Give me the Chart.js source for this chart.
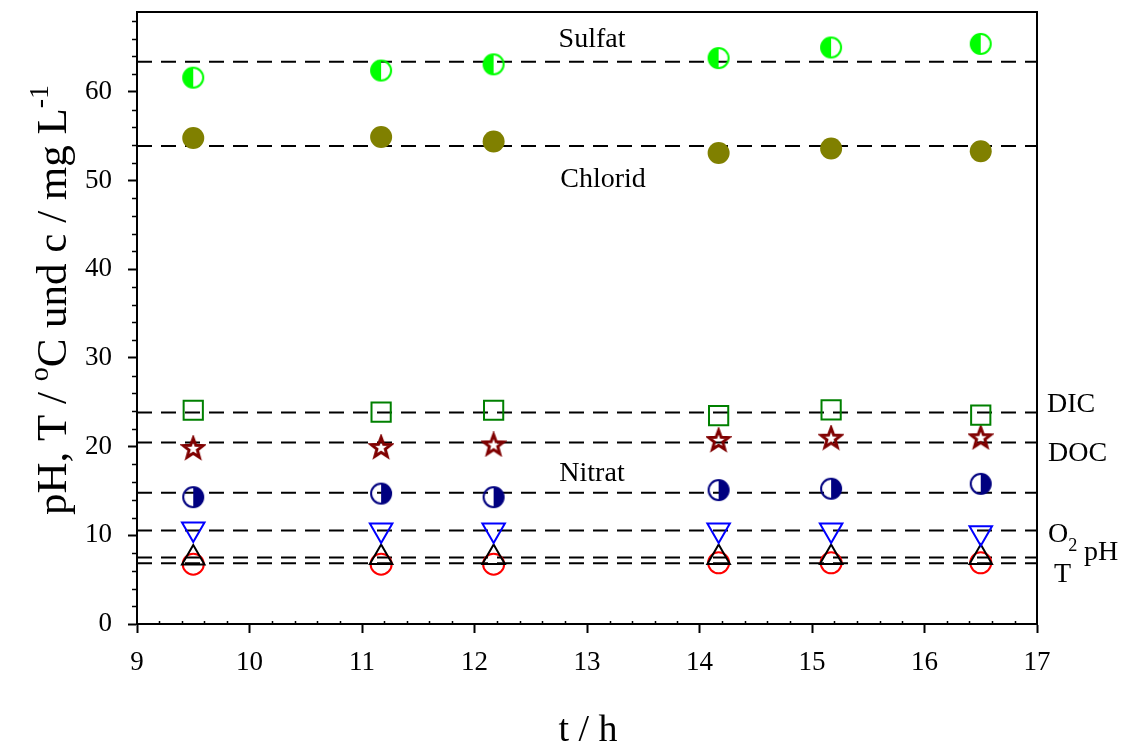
<!DOCTYPE html>
<html>
<head>
<meta charset="utf-8">
<script src="https://cdn.jsdelivr.net/npm/chart.js@4.4.0/dist/chart.umd.min.js"></script>
<style>
  html, body { margin: 0; padding: 0; background: #fff; }
  #wrap { width: 1127px; height: 747px; }
</style>
</head>
<body>
<div id="wrap"><canvas id="main-chart" width="1127" height="747"></canvas></div>
<script>
// Messzeitpunkte (h) und Messwerte
const times   = [9.5, 11.17, 12.17, 14.17, 15.17, 16.5];
const sulfat  = [61.6, 62.4, 63.1, 63.8, 65.0, 65.4];
const chlorid = [54.8, 54.9, 54.4, 53.1, 53.6, 53.3];
const dic     = [24.1, 23.9, 24.1, 23.5, 24.15, 23.55];
const doc     = [19.85, 19.95, 20.25, 20.75, 21.0, 21.05];
const nitrat  = [14.3, 14.7, 14.3, 15.1, 15.25, 15.8];
const o2      = [10.7, 10.6, 10.6, 10.6, 10.6, 10.3];
const ph      = [7.45, 7.5, 7.5, 7.5, 7.5, 7.5];
const temp    = [6.75, 6.75, 6.75, 6.9, 6.9, 6.9];

// Mittelwerte (gestrichelte Linien)
const meanLevels = [63.4, 53.9, 23.85, 20.45, 14.8, 10.55, 7.5, 6.85];

const xTicks = [9, 10, 11, 12, 13, 14, 15, 16, 17];
const yTicks = [0, 10, 20, 30, 40, 50, 60];

const SERIF = "'Liberation Serif', 'Times New Roman', serif";

// Halb gefuellter Kreis als Punktsymbol
function halfCircle(color, side) {
    const c = document.createElement('canvas');
    c.width = c.height = 26;
    const g = c.getContext('2d');
    g.fillStyle = color;
    g.strokeStyle = color;
    g.lineWidth = 2;
    g.beginPath();
    if (side === 'left') g.arc(13, 13, 10.5, Math.PI / 2, Math.PI * 1.5);
    else g.arc(13, 13, 10.5, -Math.PI / 2, Math.PI / 2);
    g.closePath();
    g.fill();
    g.beginPath();
    g.arc(13, 13, 10, 0, Math.PI * 2);
    g.stroke();
    return c;
}

// Fuenfzackiger Stern
function starMarker(color) {
    const c = document.createElement('canvas');
    c.width = c.height = 26;
    const g = c.getContext('2d');
    g.strokeStyle = color;
    g.lineWidth = 3;
    g.lineJoin = 'miter';
    g.beginPath();
    for (let i = 0; i < 10; i++) {
        const r = i % 2 === 0 ? 10.5 : 4.4;
        const a = -Math.PI / 2 + i * Math.PI / 5;
        const px = 13 + r * Math.cos(a), py = 13.8 + r * Math.sin(a);
        if (i === 0) g.moveTo(px, py); else g.lineTo(px, py);
    }
    g.closePath();
    g.stroke();
    return c;
}

const pts = (vals) => vals.map((v, i) => ({ x: times[i], y: v }));

function markerSet(vals, style) {
    return Object.assign({
        type: 'scatter',
        data: pts(vals),
        showLine: false,
        order: 1,
        backgroundColor: 'rgba(0,0,0,0)',
        pointBorderWidth: 2
    }, style);
}

const datasets = [];

meanLevels.forEach((v) => {
    datasets.push({
        type: 'line',
        data: [{ x: 9, y: v }, { x: 17, y: v }],
        borderColor: '#000',
        borderWidth: 2,
        borderDash: [15, 9],
        pointRadius: 0,
        order: 2
    });
});

datasets.push(markerSet(sulfat,  { pointStyle: halfCircle('#00ff00', 'left') }));
datasets.push(markerSet(chlorid, { pointStyle: 'circle', pointRadius: 11, pointBackgroundColor: '#808000', pointBorderColor: '#808000', pointBorderWidth: 0 }));
datasets.push(markerSet(dic,     { pointStyle: 'rect', pointRadius: 13.6, pointBorderColor: '#008000' }));
datasets.push(markerSet(doc,     { pointStyle: starMarker('#800000') }));
datasets.push(markerSet(nitrat,  { pointStyle: halfCircle('#000080', 'right') }));
datasets.push(markerSet(o2,      { pointStyle: 'triangle', rotation: 180, pointRadius: 13, pointBorderColor: '#0000ff' }));
datasets.push(markerSet(ph,      { pointStyle: 'triangle', pointRadius: 13, pointBorderColor: '#000' }));
datasets.push(markerSet(temp,    { pointStyle: 'circle', pointRadius: 10.5, pointBorderColor: '#ff0000' }));

// Text mit Hoch-/Tiefstellung zeichnen
function richText(g, parts, x, y, size) {
    let cx = x;
    parts.forEach((p) => {
        const s = p.sup || p.sub ? size * 0.65 : size;
        g.font = s + 'px ' + SERIF;
        const dy = p.sup ? -size * 0.42 : (p.sub ? size * 0.33 : 0);
        g.fillText(p.t, cx, y + dy);
        cx += g.measureText(p.t).width;
    });
    return cx - x;
}

function richWidth(g, parts, size) {
    let w = 0;
    parts.forEach((p) => {
        const s = p.sup || p.sub ? size * 0.65 : size;
        g.font = s + 'px ' + SERIF;
        w += g.measureText(p.t).width;
    });
    return w;
}

const decor = {
    id: 'decor',
    afterDraw(chart) {
        const g = chart.ctx;
        const a = chart.chartArea;
        const xs = chart.scales.x, ys = chart.scales.y;
        g.save();
        g.strokeStyle = '#000';
        g.lineWidth = 2;
        // Rahmen oben und rechts
        g.beginPath();
        g.moveTo(a.left, a.top);
        g.lineTo(a.right, a.top);
        g.lineTo(a.right, a.bottom);
        g.stroke();

        // Nebenteilstriche
        g.lineWidth = 1.5;
        g.beginPath();
        for (let v = 2; v <= 68; v += 2) {
            if (v % 10 === 0) continue;
            const py = Math.round(ys.getPixelForValue(v)) + 0.5;
            g.moveTo(a.left - 5, py);
            g.lineTo(a.left, py);
        }
        for (let k = 46; k < 85; k++) {
            if (k % 5 === 0) continue;
            const px = Math.round(xs.getPixelForValue(k / 5)) + 0.5;
            g.moveTo(px, a.bottom);
            g.lineTo(px, a.bottom - 3);
        }
        g.stroke();

        g.fillStyle = '#000';
        g.textBaseline = 'middle';
        g.textAlign = 'center';
        g.font = '28px ' + SERIF;
        g.fillText('Sulfat', 592, 40);
        g.fillText('Chlorid', 603, 180);
        g.fillText('Nitrat', 592, 474);
        g.textAlign = 'left';
        g.fillText('DIC', 1047, 405);
        g.fillText('DOC', 1048, 454);
        g.textBaseline = 'alphabetic';
        richText(g, [{ t: 'O' }, { t: '2', sub: true }], 1048, 542, 28);
        g.font = '28px ' + SERIF;
        g.fillText('pH', 1084, 560);
        g.fillText('T', 1054, 582);

        // Achsentitel
        g.textAlign = 'left';
        const xt = [{ t: 't / h' }];
        richText(g, xt, 588 - richWidth(g, xt, 38) / 2, 741, 38);

        const yt = [{ t: 'pH, T / ' }, { t: 'o', sup: true }, { t: 'C und c / mg L' }, { t: '-1', sup: true }];
        g.translate(66, 300);
        g.rotate(-Math.PI / 2);
        richText(g, yt, -richWidth(g, yt, 43) / 2, 0, 43);
        g.restore();
    }
};

const tickFont = { family: SERIF, size: 27 };

new Chart(document.getElementById('main-chart').getContext('2d'), {
    data: { datasets: datasets },
    options: {
        responsive: false,
        animation: false,
        events: [],
        layout: { autoPadding: false, padding: { top: 12, right: 90, left: 0, bottom: 0 } },
        plugins: { legend: { display: false }, tooltip: { enabled: false } },
        scales: {
            x: {
                type: 'linear',
                min: 9, max: 17,
                afterBuildTicks: (s) => { s.ticks = xTicks.map((v) => ({ value: v })); },
                afterFit: (s) => { s.height = 123; s.paddingLeft = 0; s.paddingRight = 0; },
                ticks: { font: tickFont, color: '#000', padding: 14, maxRotation: 0 },
                grid: { drawOnChartArea: false, drawTicks: true, tickLength: 9, tickWidth: 2, tickColor: '#000' },
                border: { display: true, color: '#000', width: 2 }
            },
            y: {
                type: 'linear',
                min: 0, max: 69,
                afterBuildTicks: (s) => { s.ticks = yTicks.map((v) => ({ value: v })); },
                afterFit: (s) => { s.width = 137; s.paddingTop = 0; s.paddingBottom = 0; },
                ticks: { font: tickFont, color: '#000', padding: 16 },
                grid: { drawOnChartArea: false, drawTicks: true, tickLength: 9, tickWidth: 2, tickColor: '#000' },
                border: { display: true, color: '#000', width: 2 }
            }
        }
    },
    plugins: [decor]
});
</script>
</body>
</html>
